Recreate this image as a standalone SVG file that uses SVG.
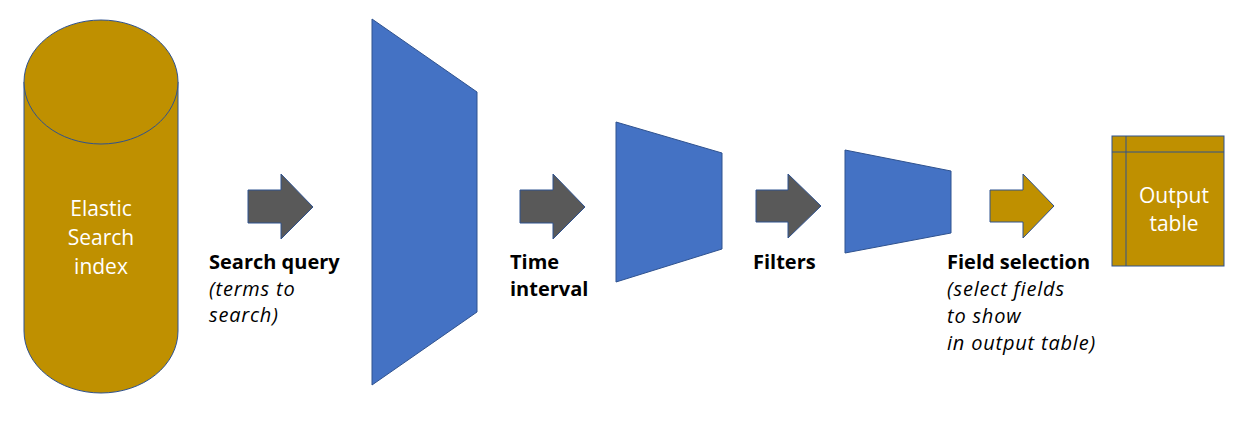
<svg xmlns="http://www.w3.org/2000/svg" width="1247" height="422" viewBox="0 0 1247 422">
<style>
.gold{fill:#BF9000;stroke:#2F528F;stroke-width:1}
.blue{fill:#4472C4;stroke:#2F528F;stroke-width:1}
.gray{fill:#595959;stroke:#2F528F;stroke-width:1}
.wt{font-family:"Open Sans","Noto Sans",sans-serif;font-size:21px;fill:#FFFFFF;text-anchor:middle}
.lb{font-family:"Open Sans","Noto Sans",sans-serif;font-size:20px;fill:#000000;font-weight:bold}
.li{font-family:"Open Sans","Noto Sans",sans-serif;font-size:20px;fill:#000000;font-style:italic;letter-spacing:0.8px}
</style>
<rect width="1247" height="422" fill="#FFFFFF"/>
<g id="es-index">
<path class="gold" d="M24,82 L24,331 A77,62 0 0 0 178,331 L178,82"/>
<ellipse class="gold" cx="101" cy="82" rx="77" ry="62"/>
<text class="wt" x="101" y="216">Elastic</text>
<text class="wt" x="101" y="245">Search</text>
<text class="wt" x="101" y="274">index</text>
</g>
<g id="funnel-1">
<polygon class="blue" points="372,19 477,92 477,312 372,385"/>
</g>
<g id="funnel-2">
<polygon class="blue" points="616,122 722,153 722,249 616,282"/>
</g>
<g id="funnel-3">
<polygon class="blue" points="845,150 951,171 951,233 845,253"/>
</g>
<g id="output-table">
<rect class="gold" x="1112" y="136" width="112" height="130"/>
<line x1="1126" y1="136" x2="1126" y2="266" stroke="#2F528F" stroke-width="1"/>
<line x1="1112" y1="152" x2="1224" y2="152" stroke="#2F528F" stroke-width="1"/>
<text class="wt" x="1174" y="203">Output</text>
<text class="wt" x="1174" y="231">table</text>
</g>
<g id="connectors">
<polygon class="gray" points="248,190 281,190 281,174 313,207 281,239 281,223 248,223"/>
<polygon class="gray" points="520,190 553,190 553,174 585,207 553,239 553,223 520,223"/>
<polygon class="gray" points="756,190 788,190 788,174 821,206 788,238 788,222 756,222"/>
<polygon class="gold" points="990,190 1023,190 1023,174 1054,206 1023,238 1023,222 990,222"/>
</g>
<g id="labels">
<text class="lb" x="209" y="269">Search query</text>
<text class="li" x="209" y="296">(terms to</text>
<text class="li" x="209" y="322">search)</text>
<text class="lb" x="510" y="269">Time</text>
<text class="lb" x="510" y="296">interval</text>
<text class="lb" x="753" y="269">Filters</text>
<text class="lb" x="947" y="269">Field selection</text>
<text class="li" x="947" y="296">(select fields</text>
<text class="li" x="947" y="323">to show</text>
<text class="li" x="947" y="350">in output table)</text>
</g>
</svg>
